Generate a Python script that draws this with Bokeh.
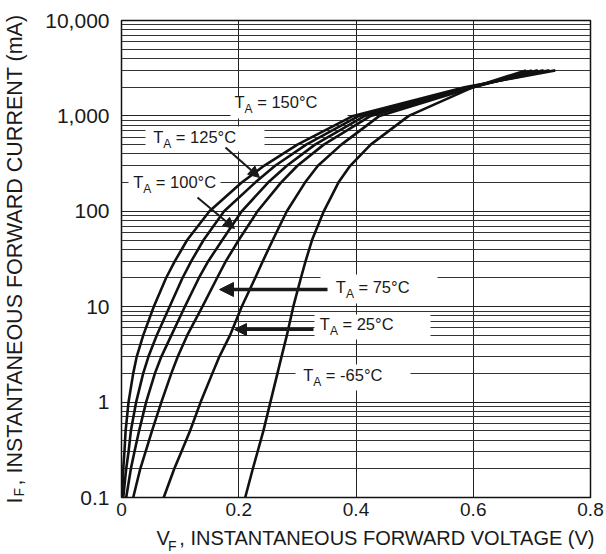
from bokeh.plotting import figure
from bokeh.models import FixedTicker, Label, Arrow, NormalHead, BoxAnnotation, Range1d, Title
from bokeh.embed import file_html
from bokeh.resources import INLINE

# ---- data ----
current_ma = [0.1, 0.2, 0.3, 0.5, 1, 2, 3, 5, 10, 20, 30, 50, 100, 200, 300, 500, 1000, 2000, 3000]
v_150 = [0.001, 0.003, 0.005, 0.007, 0.012, 0.020, 0.026, 0.037, 0.055, 0.076, 0.091, 0.112, 0.150,
         0.205, 0.243, 0.300, 0.395, 0.585, 0.740]
v_125 = [0.003, 0.008, 0.012, 0.016, 0.025, 0.037, 0.046, 0.060, 0.082, 0.104, 0.119, 0.140, 0.175,
         0.228, 0.262, 0.315, 0.405, 0.590, 0.730]
v_100 = [0.008, 0.016, 0.022, 0.030, 0.042, 0.057, 0.068, 0.085, 0.108, 0.132, 0.148, 0.172, 0.205,
         0.250, 0.282, 0.330, 0.415, 0.595, 0.720]
v_75 = [0.020, 0.032, 0.041, 0.052, 0.068, 0.085, 0.096, 0.112, 0.138, 0.163, 0.178, 0.200, 0.232,
        0.272, 0.300, 0.345, 0.425, 0.600, 0.710]
v_25 = [0.072, 0.090, 0.102, 0.117, 0.135, 0.155, 0.167, 0.185, 0.205, 0.228, 0.241, 0.258, 0.282,
        0.313, 0.335, 0.375, 0.440, 0.600, 0.700]
v_m65 = [0.211, 0.224, 0.232, 0.242, 0.254, 0.266, 0.273, 0.282, 0.293, 0.306, 0.314, 0.325, 0.345,
         0.370, 0.390, 0.425, 0.490, 0.600, 0.690]
series = [v_150, v_125, v_100, v_75, v_25, v_m65]
temp_labels = ["150", "125", "100", "75", "25", "-65"]

x_ticks = [0, 0.2, 0.4, 0.6, 0.8]
x_tick_labels = ["0", "0.2", "0.4", "0.6", "0.8"]
y_ticks = [0.1, 1, 10, 100, 1000, 10000]
y_tick_labels = ["0.1", "1", "10", "100", "1,000", "10,000"]
y_minor = [m * d for d in [0.1, 1, 10, 100, 1000] for m in range(2, 10)]

FONT = "Liberation Sans"
INK = "#1a1a1a"
NB = "\u00a0"
THIN = "\u2009"

p = figure(width=604, height=554, x_range=Range1d(0, 0.8), y_range=Range1d(0.1, 10000),
           y_axis_type="log", output_backend="svg", toolbar_location=None,
           min_border_left=119, min_border_right=14, min_border_top=20, min_border_bottom=57)
p.background_fill_color = "white"
p.border_fill_color = "white"
p.outline_line_color = "#111111"
p.outline_line_width = 1.5

p.xaxis.ticker = FixedTicker(ticks=x_ticks)
p.xaxis.major_label_overrides = {t: s for t, s in zip(x_ticks, x_tick_labels)}
p.yaxis.ticker = FixedTicker(ticks=y_ticks, minor_ticks=y_minor)
p.yaxis.major_label_overrides = {t: s for t, s in zip(y_ticks, y_tick_labels)}
for ax in (p.xaxis[0], p.yaxis[0]):
    ax.axis_line_color = None
    ax.major_tick_line_color = None
    ax.minor_tick_line_color = None
    ax.major_tick_out = 0
    ax.minor_tick_out = 0
    ax.major_label_text_font = FONT
    ax.major_label_text_color = INK
    ax.axis_label_text_font = FONT
    ax.axis_label_text_font_style = "normal"
    ax.axis_label_text_color = INK
p.xaxis.major_label_text_font_size = "19px"
p.yaxis.major_label_text_font_size = "21px"
p.xaxis.major_label_standoff = 5
p.yaxis.major_label_standoff = 12

# axis titles (the subscript F of each is added as a separate title)
p.yaxis.axis_label = "I" + NB * 2 + ", INSTANTANEOUS FORWARD CURRENT (mA)"
p.yaxis.axis_label_text_font_size = "21.5px"
p.yaxis.axis_label_standoff = 15
p.xaxis.axis_label = NB * 7 + "V" + NB + THIN + ", INSTANTANEOUS FORWARD VOLTAGE (V)"
p.xaxis.axis_label_text_font_size = "20px"
p.xaxis.axis_label_standoff = 8

p.xgrid.grid_line_color = "#222222"
p.xgrid.grid_line_width = 1
p.ygrid.grid_line_color = "#222222"
p.ygrid.grid_line_width = 1
p.ygrid.minor_grid_line_color = "#333333"
p.ygrid.minor_grid_line_width = 1

# frame origin in canvas pixels (for converting screen positions)
FL, FB = 119, 497


def sx(px):
    return px - FL


def sy(py):
    return FB - py


# white boxes behind the annotation texts (hide grid lines)
boxes = [(228, 345, 96, 118), (143, 262, 126, 151), (126, 218, 176, 196),
         (318, 435, 274, 303), (312, 428, 314, 339), (293, 408, 364, 390)]
for l, r, t, b in boxes:
    box = BoxAnnotation(left=sx(l), right=sx(r), top=sy(t), bottom=sy(b),
                        left_units="screen", right_units="screen", top_units="screen", bottom_units="screen",
                        fill_color="white", fill_alpha=1, line_color=None, level="underlay")
    p.add_layout(box)

for v in series:
    p.line(v, current_ma, line_color="#111111", line_width=2.6, line_join="round")

# annotation labels  T_A = ...°C
label_pos = [(232, 110), (150.7, 145), (130.7, 190), (333.3, 295), (317.3, 332), (300.7, 383)]
FS, FS_SUB = 16.5, 12
for (px, py), t in zip(label_pos, temp_labels):
    x0 = sx(px)
    y0 = sy(py)
    p.add_layout(Label(x=x0, y=y0, x_units="screen", y_units="screen", text="T",
                       text_font=FONT, text_font_size=f"{FS}px", text_color=INK))
    xa = x0 + 0.611 * FS
    p.add_layout(Label(x=xa, y=y0 - 5, x_units="screen", y_units="screen", text="A",
                       text_font=FONT, text_font_size=f"{FS_SUB}px", text_color=INK))
    xr = xa + 0.667 * FS_SUB
    p.add_layout(Label(x=xr, y=y0, x_units="screen", y_units="screen", text=NB + f"= {t}°C",
                       text_font=FONT, text_font_size=f"{FS}px", text_color=INK))

# arrows
arrows = [((223, 147), (257, 177), 2.0, 11), ((195, 197), (232, 228), 2.0, 11),
          ((325, 289), (217, 289), 3.5, 14), ((311, 329), (232, 329), 3.0, 12)]
for (x1, y1), (x2, y2), w, hs in arrows:
    p.add_layout(Arrow(x_start=sx(x1), y_start=sy(y1), x_end=sx(x2), y_end=sy(y2),
                       start_units="screen", end_units="screen",
                       line_color=INK, line_width=w,
                       end=NormalHead(size=hs, fill_color=INK, line_color=INK)))

# subscripts F of the axis titles
p.add_layout(Title(text="F", align="left", offset=46.5, vertical_align="top", standoff=-27,
                   text_font=FONT, text_font_size="14px", text_font_style="normal", text_color=INK), "below")
p.add_layout(Title(text="F", align="left", offset=1, vertical_align="bottom", standoff=-52,
                   text_font=FONT, text_font_size="14px", text_font_style="normal", text_color=INK), "left")

open("out.html", "w").write(file_html(p, INLINE))
